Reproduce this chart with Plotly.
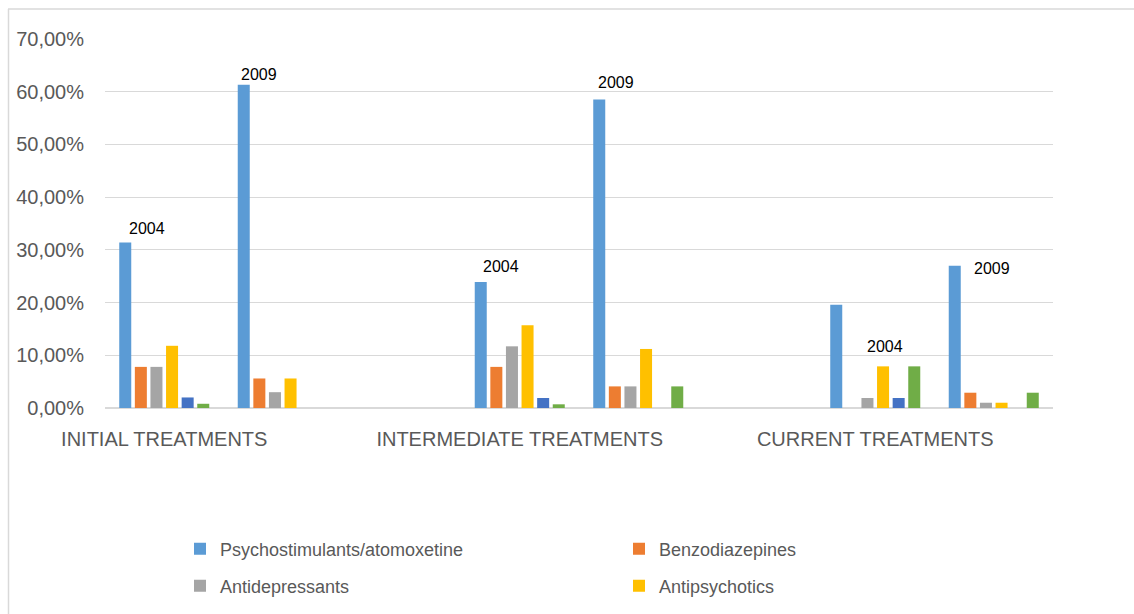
import plotly.graph_objects as go

# Category slots on the x axis: 2004 and 2009 clusters for each treatment stage,
# with an empty slot between stages.
slot_positions = [0, 1, 3, 4, 6, 7]
slot_years = ["2004", "2009", "2004", "2009", "2004", "2009"]
stage_ticks = [0, 3, 6]
stage_labels = ["INITIAL TREATMENTS", "INTERMEDIATE TREATMENTS", "CURRENT TREATMENTS"]

# Share of patients per drug class (fractions), in slot order
psychostimulants = [0.314, 0.613, 0.239, 0.585, 0.196, 0.270]
benzodiazepines = [0.078, 0.056, 0.078, 0.041, 0.000, 0.029]
antidepressants = [0.078, 0.030, 0.117, 0.041, 0.019, 0.010]
antipsychotics = [0.118, 0.056, 0.157, 0.112, 0.079, 0.010]
mood_stabilizers = [0.020, 0.000, 0.019, 0.000, 0.019, 0.000]
others = [0.008, 0.000, 0.007, 0.041, 0.079, 0.029]

W, H = 1134, 614
ML, MR, MT, MB = 105, 81, 39, 206
PW, PH = W - ML - MR, H - MT - MB


def px_x(p):
    return (p - ML) / PW


def px_y(p):
    return (H - MB - p) / PH


# name, values, colour, legend id and its pixel anchor (or None when not listed)
series = [
    ("Psychostimulants/atomoxetine", psychostimulants, "#5B9BD5", ("legend", 180, 549)),
    ("Benzodiazepines", benzodiazepines, "#ED7D31", ("legend2", 619, 549)),
    ("Antidepressants", antidepressants, "#A5A5A5", ("legend3", 180, 586)),
    ("Antipsychotics", antipsychotics, "#FFC000", ("legend4", 619, 586)),
    ("Mood stabilizers", mood_stabilizers, "#4472C4", None),
    ("Others", others, "#70AD47", None),
]

font_main = "Liberation Sans, Arial, sans-serif"

fig = go.Figure()
legend_layouts = {}
for name, vals, color, leg in series:
    fig.add_trace(go.Bar(
        x=slot_positions, y=vals, name=name,
        marker=dict(color=color, line=dict(width=0)),
        showlegend=leg is not None,
        legend=leg[0] if leg else "legend",
        hovertemplate="%{y:.2%}<extra>" + name + "</extra>",
    ))
    if leg:
        lid, lx, ly = leg
        legend_layouts[lid] = dict(
            x=px_x(lx), y=px_y(ly), xanchor="left", yanchor="middle",
            orientation="h", itemwidth=30,
            font=dict(family=font_main, size=18, color="#595959"),
            bgcolor="rgba(0,0,0,0)",
        )

# Year labels beside the clusters: (slot index, anchor series values, xshift, yshift)
year_labels = [
    (0, psychostimulants, -17, 14),
    (1, psychostimulants, -24, 10),
    (2, psychostimulants, -19, 16),
    (3, psychostimulants, -22, 17),
    (4, antipsychotics, 10, 20),
    (5, psychostimulants, -2, -3),
]
annotations = []
for i, vals, dx, dy in year_labels:
    annotations.append(dict(
        x=slot_positions[i], y=vals[i], xref="x", yref="y",
        text=slot_years[i], showarrow=False,
        xshift=dx, yshift=dy, yanchor="middle", xanchor="center",
        font=dict(family=font_main, size=16, color="#000000"),
    ))

border = "#D9D9D9"
shapes = [
    dict(type="line", xref="paper", yref="paper",
         x0=px_x(8.5), x1=px_x(8.5), y0=px_y(9), y1=px_y(H + 2),
         line=dict(color=border, width=1.5)),
    dict(type="line", xref="paper", yref="paper",
         x0=px_x(8), x1=px_x(W + 2), y0=px_y(9), y1=px_y(9),
         line=dict(color=border, width=1.5)),
]

fig.update_layout(
    width=W, height=H,
    margin=dict(l=ML, r=MR, t=MT, b=MB, pad=0, autoexpand=False),
    paper_bgcolor="#FFFFFF", plot_bgcolor="#FFFFFF",
    barmode="group", bargap=0.21, bargroupgap=0.23,
    font=dict(family=font_main, color="#595959"),
    xaxis=dict(
        range=[-0.5, 7.5], tickmode="array", tickvals=stage_ticks, ticktext=stage_labels,
        showgrid=False, zeroline=False, showline=False, ticks="",
        tickfont=dict(family=font_main, size=20, color="#595959"),
        ticklabelstandoff=17, fixedrange=True,
    ),
    yaxis=dict(
        range=[0, 0.7], dtick=0.1, tickformat=".2%",
        showgrid=True, gridcolor="#D9D9D9", gridwidth=1,
        zeroline=True, zerolinecolor="#D9D9D9", zerolinewidth=1.5,
        showline=False, ticks="",
        tickfont=dict(family=font_main, size=20, color="#595959"),
        ticklabelstandoff=20, fixedrange=True,
    ),
    separators=",.",
    annotations=annotations,
    shapes=shapes,
    **legend_layouts,
)

fig.write_html("out.html")
